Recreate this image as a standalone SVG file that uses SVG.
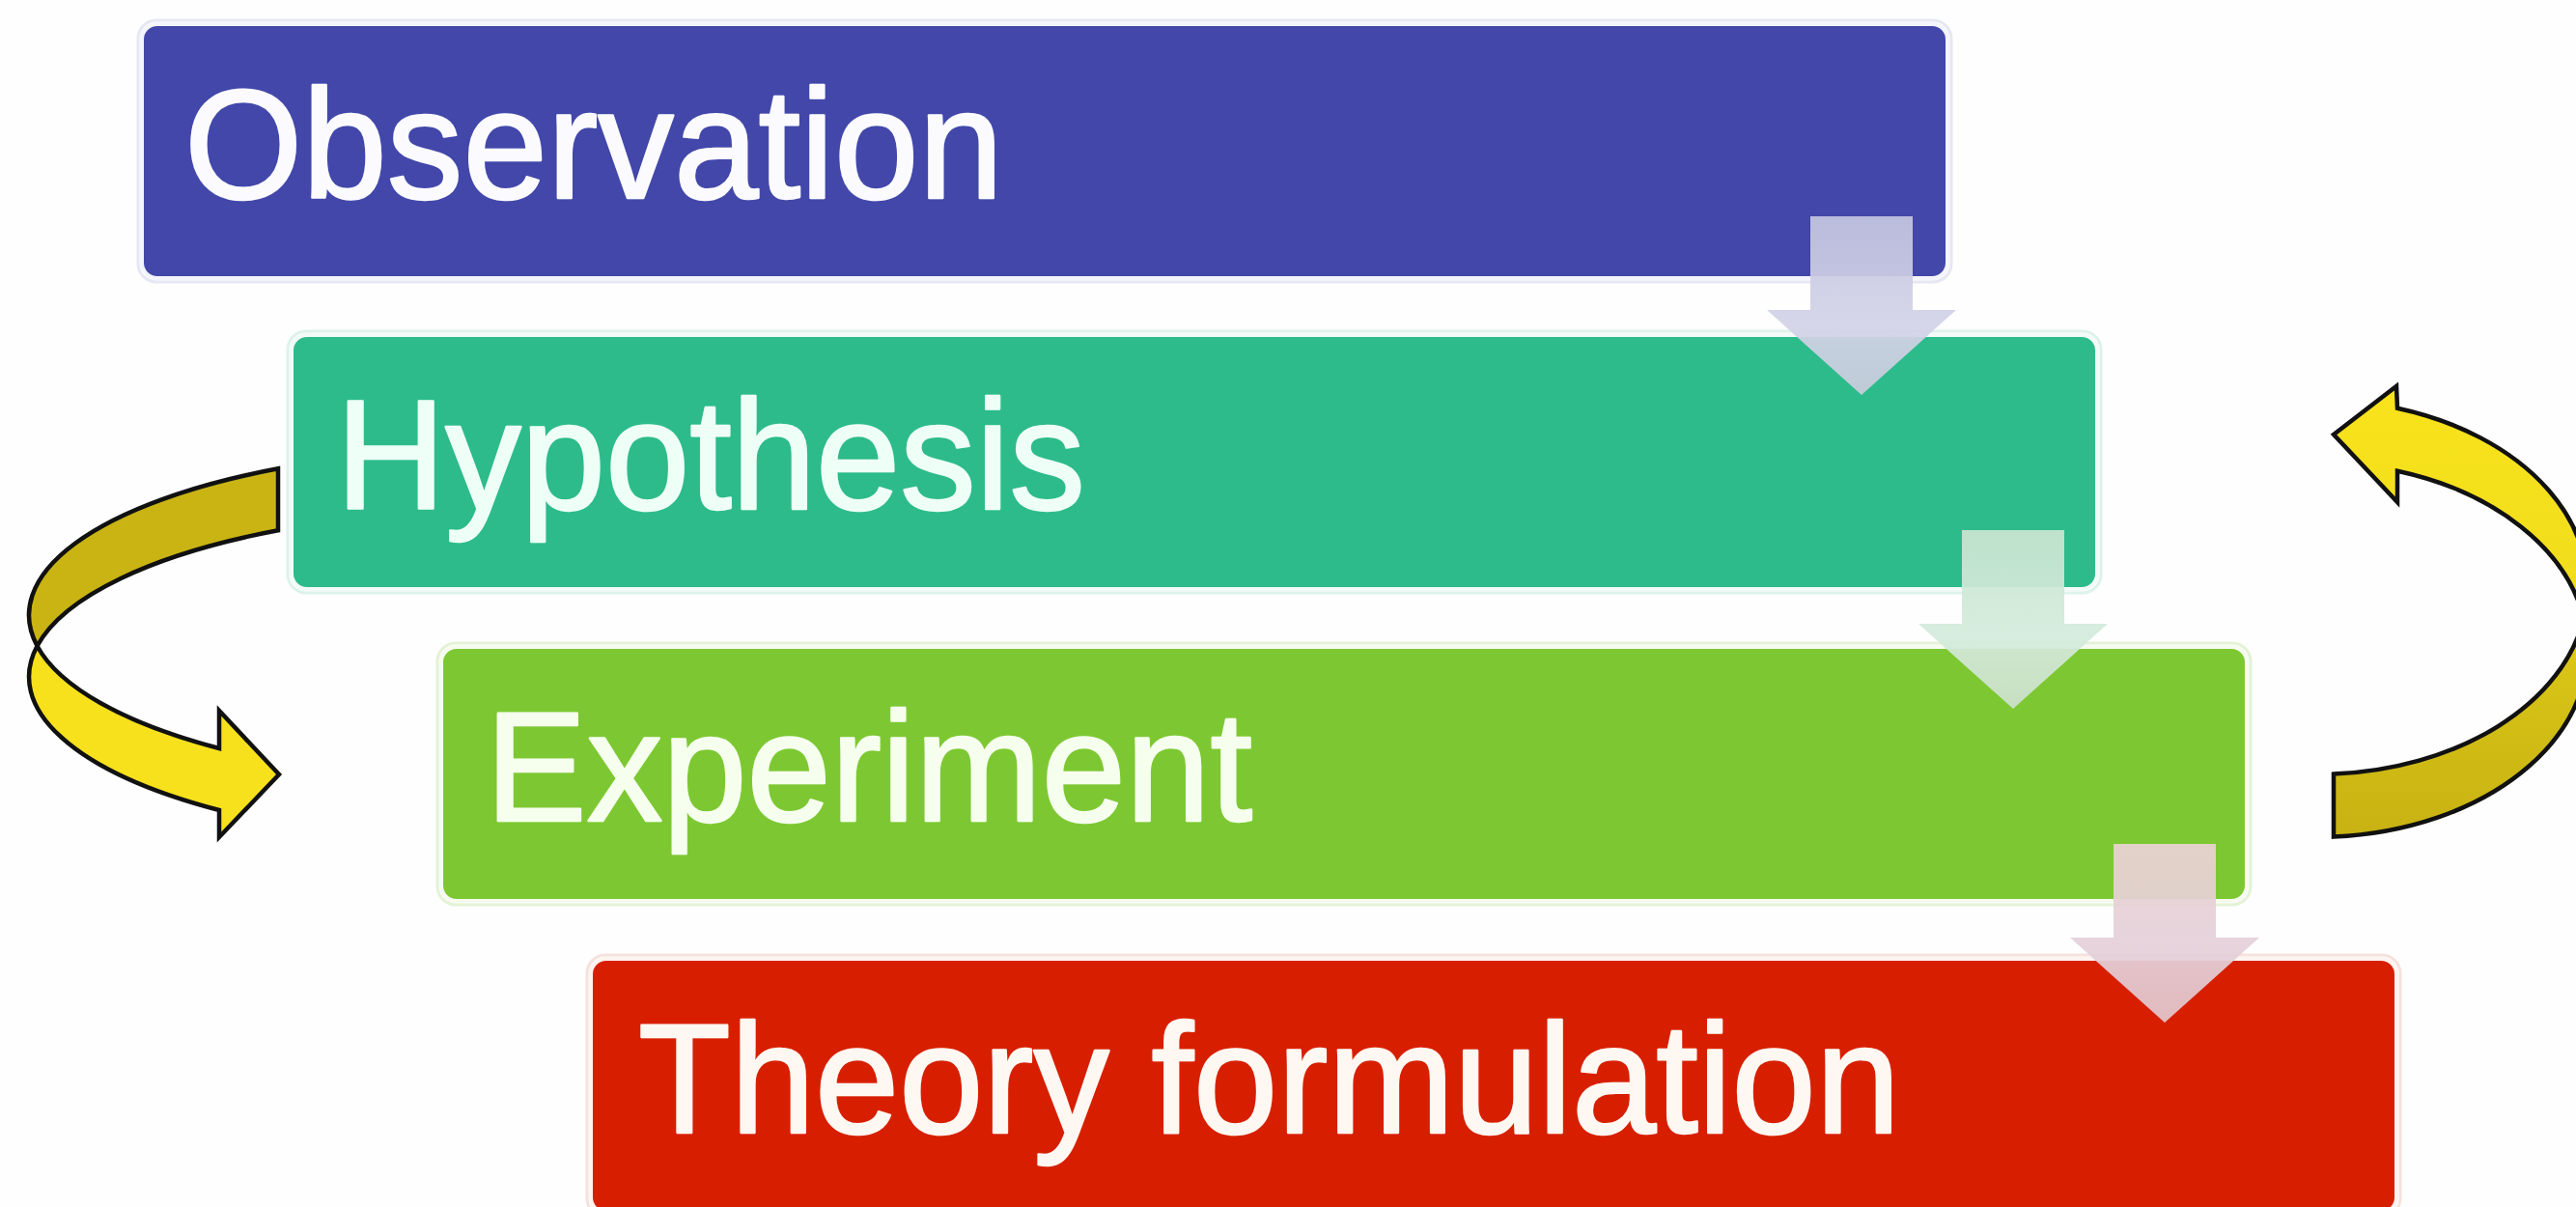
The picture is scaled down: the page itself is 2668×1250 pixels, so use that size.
<svg xmlns="http://www.w3.org/2000/svg" width="2668" height="1250" viewBox="0 0 2668 1250">
  <style>
    .box { stroke-width: 4; }
    .label { font-family: "Liberation Sans", Arial, sans-serif; font-size: 161px; stroke-width: 2.5; stroke-linejoin: round; }
    .step { opacity: 0.93; }
    .loop { stroke: #111; stroke-width: 4.5; stroke-linejoin: miter; }
  </style>
  <defs>
    <linearGradient id="gStep1" x1="0" y1="0" x2="0" y2="1">
      <stop offset="0" stop-color="#c4c5e0"/>
      <stop offset="0.6" stop-color="#d3d3e8"/>
      <stop offset="1" stop-color="#c9ccdc"/>
    </linearGradient>
    <linearGradient id="gStep2" x1="0" y1="0" x2="0" y2="1">
      <stop offset="0" stop-color="#c9e5d1"/>
      <stop offset="0.6" stop-color="#d4ebdc"/>
      <stop offset="1" stop-color="#cde0cb"/>
    </linearGradient>
    <linearGradient id="gStep3" x1="0" y1="0" x2="0" y2="1">
      <stop offset="0" stop-color="#ead2d2"/>
      <stop offset="0.6" stop-color="#e4d0da"/>
      <stop offset="1" stop-color="#e2c6cc"/>
    </linearGradient>
    <linearGradient id="gLoopR" x1="0" y1="400" x2="0" y2="870" gradientUnits="userSpaceOnUse">
      <stop offset="0" stop-color="#f8e31c"/>
      <stop offset="0.5" stop-color="#f0dc1b"/>
      <stop offset="0.62" stop-color="#d8c316"/>
      <stop offset="1" stop-color="#c7b213"/>
    </linearGradient>
  </defs>

  <rect width="2668" height="1250" fill="#fefefe"/>

  <g id="node-observation">
    <rect x="143" y="21" width="1878" height="271" rx="19" fill="none" stroke="#e6e7f3" stroke-width="3"/>
    <rect class="box" x="147" y="25" width="1870" height="263" rx="16" fill="#4247a9" stroke="#f4f4fb"/>
    <text class="label" x="191" y="205" textLength="848" lengthAdjust="spacingAndGlyphs" fill="#fbfbff" stroke="#fbfbff">Observation</text>
  </g>

  <g id="node-hypothesis">
    <rect x="298" y="343" width="1878" height="271" rx="19" fill="none" stroke="#def2ea" stroke-width="3"/>
    <rect class="box" x="302" y="347" width="1870" height="263" rx="16" fill="#2dbb8b" stroke="#f2fbf8"/>
    <text class="label" x="348" y="527" textLength="776" lengthAdjust="spacingAndGlyphs" fill="#eefff8" stroke="#eefff8">Hypothesis</text>
  </g>

  <g id="node-experiment">
    <rect x="453" y="666" width="1878" height="271" rx="19" fill="none" stroke="#e4f2d6" stroke-width="3"/>
    <rect class="box" x="457" y="670" width="1870" height="263" rx="16" fill="#7dc832" stroke="#f6fbef"/>
    <text class="label" x="503" y="850" textLength="794" lengthAdjust="spacingAndGlyphs" fill="#f6ffee" stroke="#f6ffee">Experiment</text>
  </g>

  <g id="node-theory">
    <rect x="608" y="989" width="1878" height="271" rx="19" fill="none" stroke="#f6e2dc" stroke-width="3"/>
    <rect class="box" x="612" y="993" width="1870" height="263" rx="16" fill="#d71f00" stroke="#fdf3ef"/>
    <text class="label" x="661" y="1173" textLength="1307" lengthAdjust="spacingAndGlyphs" fill="#fff8f2" stroke="#fff8f2">Theory formulation</text>
  </g>

  <g id="connectors">
    <!-- step arrows between the stacked stages -->
    <path class="step" fill="url(#gStep1)" d="M1875,224 H1981 V321 H2026 L1928,409 L1830,321 H1875 Z"/>
    <path class="step" fill="url(#gStep2)" d="M2032,549 H2138 V646 H2183 L2085,734 L1987,646 H2032 Z"/>
    <path class="step" fill="url(#gStep3)" d="M2189,874 H2295 V971 H2340 L2242,1059 L2144,971 H2189 Z"/>

    <!-- left loop: two offset elliptical edges (centres 518,637 and 518,701) crossing at the far left -->
    <path class="loop" fill="#c9b413" d="M288,485.3 A488 172 0 0 0 38.5,669 A488 172 0 0 1 288,549.3 Z"/>
    <path class="loop" fill="#f6e11c" d="M38.5,669 A488 172 0 0 0 227,775 L227,736 L289,802 L227,867 L227,839 A488 172 0 0 1 38.5,669 Z"/>

    <!-- right loop: offset elliptical edges (centres 2400,608 and 2400,673) crossing just past the right edge -->
    <path class="loop" fill="url(#gLoopR)" d="M2676,640.5 A280 194 0 0 1 2417,801.6 L2417,866.6 A280 194 0 0 0 2676,640.5 Z"/>
    <path class="loop" fill="url(#gLoopR)" d="M2483,422.7 A280 194 0 0 1 2676,640.5 A280 194 0 0 0 2483,487.7 L2483,520 L2417,450 L2482,400 Z"/>
  </g>
</svg>
